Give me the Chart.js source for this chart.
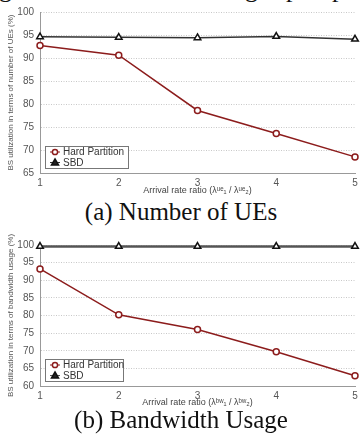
<!DOCTYPE html>
<html>
<head>
<meta charset="utf-8">
<script src="https://cdn.jsdelivr.net/npm/chart.js@4"></script>
<style>
  html, body { margin: 0; padding: 0; background: #fff; }
  body { width: 362px; height: 435px; position: relative; overflow: hidden; }
  .wrap { position: absolute; left: 0; width: 362px; }
  .caption { position: absolute; left: 0; width: 362px; text-align: center;
             font-family: "Liberation Serif", "Times New Roman", serif; font-size: 25px;
             line-height: 30px; color: #111; }
  .cut { position: absolute; font-family: "Liberation Serif", serif; font-size: 26px; top: -26px; color: #111; }
</style>
</head>
<body>
<span class="cut" style="left:-1px">g</span>
<span class="cut" style="left:245px">g</span>
<span class="cut" style="left:286px">p</span>
<span class="cut" style="left:332px">p</span>

<div class="wrap" style="top:0;height:196px"><canvas id="ueChart"></canvas></div>
<div class="caption" style="top:197px">(a) Number of UEs</div>
<div class="wrap" style="top:230px;height:178px"><canvas id="bwChart"></canvas></div>
<div class="caption" style="top:405px">(b) Bandwidth Usage</div>

<script>
const ratios = [1, 2, 3, 4, 5];
const hardUEs = [92.7, 90.6, 78.6, 73.6, 68.5];
const sbdUEs = [94.6, 94.5, 94.4, 94.7, 94.1];
const hardBW = [93.2, 80.2, 76.0, 69.7, 62.9];
const sbdBW = [99.6, 99.6, 99.6, 99.6, 99.6];
const yTicksUE = [65, 100];
const yTicksBW = [60, 100];

const FONT = "'Liberation Sans', Arial, Helvetica, sans-serif";
const RED = '#8c1c1c';

function pts(values) {
    return ratios.map((r, i) => ({x: r, y: values[i]}));
}

// legend box drawn inside the plot, lower left
const insideLegend = {
    id: 'insideLegend',
    afterDatasetsDraw(chart) {
        const ctx = chart.ctx;
        const area = chart.chartArea;
        const w = chart.options.plugins.insideLegend.width;
        const h = 22;
        const x0 = area.left + 5;
        const y0 = area.bottom - 5 - h;
        ctx.save();
        ctx.fillStyle = '#fff';
        ctx.fillRect(x0, y0, w, h);
        ctx.strokeStyle = '#777';
        ctx.lineWidth = 1;
        ctx.strokeRect(x0 + 0.5, y0 + 0.5, w, h);
        ctx.font = '10px ' + FONT;
        ctx.textBaseline = 'middle';
        chart.data.datasets.forEach((ds, i) => {
            const cy = y0 + 6 + i * 10.5;
            const cx = x0 + 10;
            ctx.strokeStyle = ds.borderColor;
            ctx.lineWidth = 1;
            ctx.beginPath();
            ctx.moveTo(cx - 5, cy);
            ctx.lineTo(cx + 5, cy);
            ctx.stroke();
            ctx.fillStyle = ds.pointStyle === 'triangle' ? '#222' : '#fff';
            ctx.strokeStyle = ds.pointStyle === 'triangle' ? '#111' : ds.borderColor;
            ctx.lineWidth = 1.5;
            ctx.beginPath();
            if (ds.pointStyle === 'triangle') {
                ctx.moveTo(cx, cy - 3.5);
                ctx.lineTo(cx + 3.5, cy + 2.5);
                ctx.lineTo(cx - 3.5, cy + 2.5);
                ctx.closePath();
            } else {
                ctx.arc(cx, cy, 2.6, 0, Math.PI * 2);
            }
            ctx.fill();
            ctx.stroke();
            ctx.fillStyle = '#333';
            ctx.fillText(ds.label, x0 + 18, cy + 0.5);
        });
        ctx.restore();
    }
};

function makeChart(id, hard, sbd, yRange, yTitle, xTitle, sbdColor, sbdWidth, padTop, xHeight, legendWidth) {
    const ctx = document.getElementById(id);
    return new Chart(ctx, {
        type: 'line',
        data: {
            datasets: [
                {
                    label: 'Hard Partition',
                    data: pts(hard),
                    borderColor: RED,
                    backgroundColor: '#fff',
                    borderWidth: 1.5,
                    pointStyle: 'circle',
                    pointRadius: 3,
                    pointBorderWidth: 1.5,
                    pointBackgroundColor: '#fff',
                    tension: 0
                },
                {
                    label: 'SBD',
                    data: pts(sbd),
                    borderColor: sbdColor,
                    backgroundColor: '#fff',
                    borderWidth: sbdWidth,
                    pointStyle: 'triangle',
                    pointRadius: 3.8,
                    pointBorderWidth: 1.5,
                    pointBorderColor: '#111',
                    pointBackgroundColor: '#fff',
                    tension: 0
                }
            ]
        },
        options: {
            responsive: true,
            maintainAspectRatio: false,
            animation: false,
            clip: false,
            layout: {
                padding: {top: padTop, right: 7, left: 0, bottom: 0}
            },
            plugins: {
                legend: {display: false},
                tooltip: {enabled: false},
                insideLegend: {width: legendWidth}
            },
            scales: {
                x: {
                    type: 'linear',
                    min: 1,
                    max: 5,
                    afterFit(scale) { scale.height = xHeight; },
                    ticks: {
                        stepSize: 1,
                        color: '#555',
                        font: {family: FONT, size: 10},
                        padding: 4
                    },
                    grid: {display: false, drawTicks: false},
                    border: {display: true, color: '#999', width: 1},
                    title: {
                        display: true,
                        text: xTitle,
                        color: '#444',
                        font: {family: FONT, size: 9},
                        padding: {top: 0, bottom: 0}
                    }
                },
                y: {
                    min: yRange[0],
                    max: yRange[1],
                    afterFit(scale) { scale.width = 40; },
                    ticks: {
                        stepSize: 5,
                        color: '#555',
                        font: {family: FONT, size: 10},
                        padding: 6
                    },
                    grid: {color: '#c8c8c8', lineWidth: 1, drawTicks: false},
                    border: {display: true, color: '#999', width: 1, dash: [1, 1.5]},
                    title: {
                        display: true,
                        text: yTitle,
                        color: '#555',
                        font: {family: FONT, size: 8},
                        padding: {top: 6, bottom: 0}
                    }
                }
            }
        },
        plugins: [insideLegend]
    });
}

makeChart('ueChart', hardUEs, sbdUEs, yTicksUE,
    'BS utilization in terms of number of UEs (%)',
    'Arrival rate ratio (λᵘᵉ₁ / λᵘᵉ₂)',
    '#333', 1.5, 12, 23, 83);

makeChart('bwChart', hardBW, sbdBW, yTicksBW,
    'BS utilization in terms of bandwidth usage (%)',
    'Arrival rate ratio (λᵇʷ₁ / λᵇʷ₂)',
    '#555', 2.5, 15, 22, 78);
</script>
</body>
</html>
